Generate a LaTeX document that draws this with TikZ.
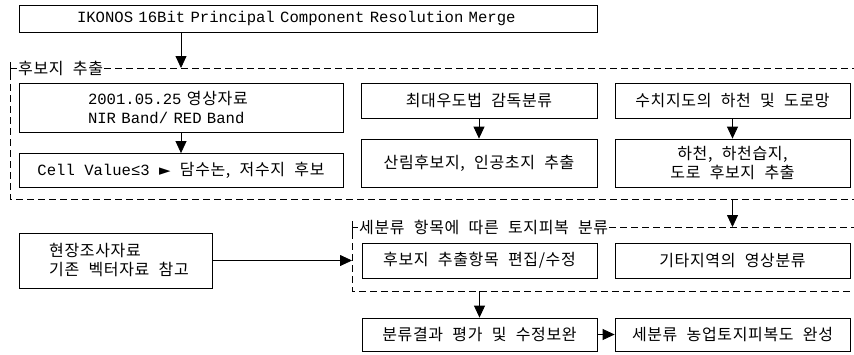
\documentclass[tikz,border=0pt]{standalone}
\usepackage{fontspec}
\usetikzlibrary{arrows.meta}
\newfontfamily\kr[LetterSpace=4,WordSpace=2.2]{Noto Sans CJK KR}
\newfontfamily\la{Liberation Mono}
\newfontfamily\sym{DejaVu Sans}
\newcommand\lt[1]{{\la\fontsize{15.6}{19}\selectfont #1}}
\begin{document}
\begin{tikzpicture}[x=1pt,y=-1pt,
  box/.style={draw,line width=0.8pt,inner sep=0pt,align=center,font=\kr\fontsize{16}{19}\selectfont},
  frame/.style={line width=0.8pt,dash pattern=on 7pt off 4pt},
  grouplabel/.style={inner sep=1pt,anchor=west,font=\kr\fontsize{16}{19}\selectfont},
  arr/.style={line width=0.8pt,-{Triangle[length=12pt,width=11pt]}}]
\useasboundingbox (0,0) rectangle (854,354);
% top
\node[box,minimum width=578,minimum height=27,text width=462,inner xsep=58,align=left] (top) at (308,18.5) {\lt{IKONOS 16Bit Principal Component Resolution Merge}};
% group 1 frame
\coordinate (r1tl) at (10,68);
\coordinate (r1bl) at (10,199);
\coordinate (r1br) at (854,199);
\node[grouplabel] (l1) at (17,68) {후보지 추출};
\draw[line width=0.8pt] (r1tl) ++(0,6) -- (r1tl) -- (l1.west);
\draw[frame] (l1.east) -- (854,68);
\draw[frame] ([yshift=6]r1tl) -- (r1bl) -- (r1br);
% group 1 boxes
\node[box,minimum width=324,minimum height=49,text width=186,inner xsep=69,align=left] (a) at (181,107.5) {\lt{2001.05.25} 영상자료\\\lt{NIR Band/ RED Band}};
\node[box,minimum width=324,minimum height=34] (b) at (181,170.5) {\lt{Cell Value≤3} {\sym\fontsize{15}{18}\selectfont ►} 담수논, 저수지 후보};
\node[box,minimum width=236,minimum height=35] (c) at (479,100.5) {최대우도법 감독분류};
\node[box,minimum width=236,minimum height=48] (d) at (479,163) {산림후보지, 인공초지 추출};
\node[box,minimum width=235,minimum height=35] (e) at (732.5,100.5) {수치지도의 하천 및 도로망};
\node[box,minimum width=235,minimum height=48] (f) at (732.5,163) {하천, 하천습지,\\도로 후보지 추출};
% group 2 frame
\coordinate (r2tl) at (352,227);
\coordinate (r2bl) at (352,291);
\coordinate (r2br) at (854,291);
\node[grouplabel] (l2) at (358,227) {세분류 항목에 따른 토지피복 분류};
\draw[line width=0.8pt] (r2tl) ++(0,6) -- (r2tl) -- (l2.west);
\draw[frame] (l2.east) -- (854,227);
\draw[frame] ([yshift=6]r2tl) -- (r2bl) -- (r2br);
% other boxes
\node[draw,line width=0.8pt,minimum width=193,minimum height=55] (g) at (115.5,260.5) {};
\node[inner sep=0pt,anchor=west,align=left,font=\kr\fontsize{16}{19}\selectfont] (gt) at (49,260.5) {현장조사자료\\기존 벡터자료 참고};
\node[box,minimum width=235,minimum height=35] (h) at (479.5,260.5) {후보지 추출항목 편집/수정};
\node[box,minimum width=235,minimum height=35] (i) at (732.5,260.5) {기타지역의 영상분류};
\node[box,minimum width=235,minimum height=33] (j) at (479.5,334.5) {분류결과 평가 및 수정보완};
\node[box,minimum width=235,minimum height=33] (k) at (732.5,334.5) {세분류 농업토지피복도 완성};
% arrows
\draw[arr] (top.south -| 181,0) -- (181,68);
\draw[arr] (a) -- (b);
\draw[arr] (c) -- (d);
\draw[arr] (e) -- (f);
\draw[arr] (f.south |- r1bl) -- (f.south |- r2tl);
\draw[arr] (g.east) -- (g.east -| r2tl);
\draw[arr] (j.north |- r2bl) -- (j.north);
\draw[arr] (j) -- (k);
\end{tikzpicture}
\end{document}
